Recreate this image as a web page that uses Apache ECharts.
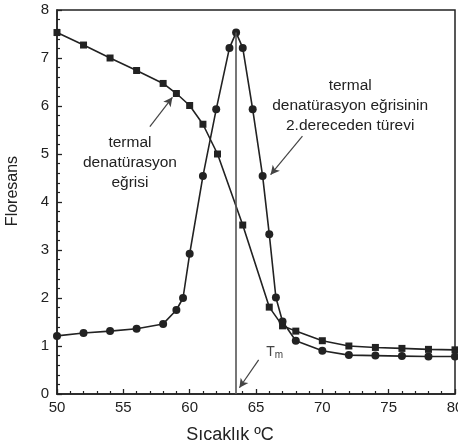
<!DOCTYPE html>
<html>
<head>
<meta charset="utf-8">
<script src="https://cdn.jsdelivr.net/npm/echarts@6/dist/echarts.min.js"></script>
<style>
  html, body { margin: 0; padding: 0; background: #fff; }
  #chart { width: 458px; height: 447px; }
</style>
</head>
<body>
<div id="chart"></div>
<script>
// termal denatürasyon eğrisi (kareler)
const curveT = [50, 52, 54, 56, 58, 59, 60, 61, 62.1, 64, 66, 67, 68, 70, 72, 74, 76, 78, 80];
const curveF = [7.53, 7.27, 7.0, 6.74, 6.47, 6.26, 6.01, 5.62, 5.0, 3.52, 1.81, 1.42, 1.31, 1.11, 1.0, 0.97, 0.95, 0.93, 0.92];

// 2. dereceden türev (daireler)
const derivT = [50, 52, 54, 56, 58, 59, 59.5, 60, 61, 62, 63, 63.5, 64, 64.75, 65.5, 66, 66.5, 67, 68, 70, 72, 74, 76, 78, 80];
const derivF = [1.21, 1.27, 1.31, 1.36, 1.46, 1.75, 2.0, 2.92, 4.54, 5.93, 7.21, 7.53, 7.21, 5.93, 4.54, 3.33, 2.01, 1.51, 1.11, 0.9, 0.81, 0.8, 0.79, 0.78, 0.78];

const Tm = 63.5;
const TmPeak = 7.53;

// açıklamalar: metin, metin merkezi, ok kuyruğu, ok ucu (veri koordinatları)
const notes = [
  { text: 'termal\ndenatürasyon\neğrisi', at: [55.5, 4.82], from: [57.0, 5.57], to: [58.7, 6.18] },
  { text: 'termal\ndenatürasyon eğrisinin\n2.dereceden türevi', at: [72.1, 6.0], from: [68.5, 5.37], to: [66.1, 4.57] }
];
const tmNote = { at: [66.4, 0.87], from: [65.2, 0.71], to: [63.75, 0.13] };

const ink = '#222';
const zip = (a, b) => a.map((v, i) => [v, b[i]]);

const chart = echarts.init(document.getElementById('chart'));

const arrowLine = (n) => ({
  type: 'line',
  data: [],
  silent: true,
  markLine: {
    silent: true,
    symbol: ['none', 'arrow'],
    symbolSize: [7, 9],
    lineStyle: { color: '#444', width: 1.2, type: 'solid' },
    label: { show: false },
    data: [[{ coord: n.from }, { coord: n.to }]]
  }
});

chart.setOption({
  animation: false,
  grid: {
    left: 57, right: 3, top: 10, bottom: 53,
    outerBoundsMode: 'none',
    containLabel: false,
    show: true, borderColor: ink, borderWidth: 1.5
  },
  xAxis: {
    type: 'value',
    min: 50, max: 80, interval: 5,
    name: 'Sıcaklık ºC',
    nameLocation: 'center',
    nameGap: 32,
    nameTextStyle: { fontFamily: 'Liberation Sans', fontSize: 18, color: ink, padding: [0, 52, 0, 0] },
    axisLine: { lineStyle: { color: ink, width: 1.5 } },
    axisTick: { inside: true, length: 5, lineStyle: { color: ink, width: 1.3 } },
    minorTick: { show: true, splitNumber: 5, length: 3, lineStyle: { color: ink, width: 1.2 } },
    axisLabel: { fontFamily: 'Liberation Sans', fontSize: 15, color: ink, margin: 6 },
    splitLine: { show: false }
  },
  yAxis: {
    type: 'value',
    min: 0, max: 8, interval: 1,
    name: 'Floresans',
    nameLocation: 'center',
    nameGap: 36,
    nameTextStyle: { fontFamily: 'Liberation Sans', fontSize: 16, color: ink, padding: [0, 0, 0, 22] },
    axisLine: { show: true, lineStyle: { color: ink, width: 1.5 } },
    axisTick: { show: true, inside: true, length: 5, lineStyle: { color: ink, width: 1.3 } },
    minorTick: { show: true, splitNumber: 5, length: 3, lineStyle: { color: ink, width: 1.2 } },
    axisLabel: { fontFamily: 'Liberation Sans', fontSize: 15, color: ink, margin: 8 },
    splitLine: { show: false }
  },
  series: [
    {
      type: 'line',
      data: zip(curveT, curveF),
      symbol: 'rect',
      symbolSize: 7,
      lineStyle: { color: ink, width: 1.6 },
      itemStyle: { color: ink },
      z: 3
    },
    {
      type: 'line',
      data: zip(derivT, derivF),
      symbol: 'circle',
      symbolSize: 8,
      lineStyle: { color: ink, width: 1.6 },
      itemStyle: { color: ink },
      z: 4,
      markLine: {
        silent: true,
        symbol: 'none',
        lineStyle: { color: '#555', width: 1.6, type: 'solid' },
        label: { show: false },
        data: [[{ coord: [Tm, 0] }, { coord: [Tm, TmPeak] }]]
      }
    },
    ...notes.map(arrowLine),
    arrowLine(tmNote)
  ]
});

const px = (p) => chart.convertToPixel({ gridIndex: 0 }, p);
const textStyle = { fontFamily: 'Liberation Sans', fontSize: 15.5, fill: ink, align: 'center', verticalAlign: 'middle', lineHeight: 20 };
const tmPos = px(tmNote.at);

chart.setOption({
  graphic: [
    ...notes.map(n => {
      const p = px(n.at);
      return { type: 'text', x: p[0], y: p[1], style: Object.assign({ text: n.text }, textStyle) };
    }),
    {
      type: 'text', x: tmPos[0], y: tmPos[1],
      style: {
        text: '{t|T}{m|m}',
        align: 'center', verticalAlign: 'middle',
        rich: {
          t: { fontFamily: 'Liberation Sans', fontSize: 14, fill: '#444' },
          m: { fontFamily: 'Liberation Sans', fontSize: 10, fill: '#444', padding: [6, 0, 0, 0] }
        }
      }
    }
  ]
});
</script>
</body>
</html>
